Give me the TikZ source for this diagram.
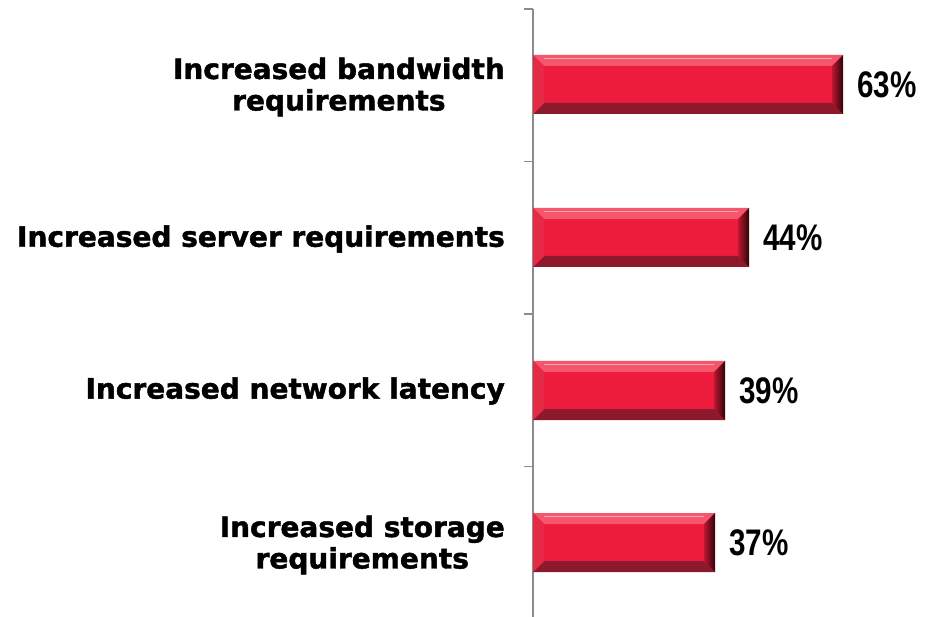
\documentclass[tikz,border=0pt]{standalone}
\usepackage{fontspec}
\setmainfont{DejaVu Sans}[BoldFeatures={FakeBold=1.5}]
\newfontfamily\valfont{Liberation Sans}
\definecolor{barface}{HTML}{EE1C3C}
\definecolor{bartop}{HTML}{F4566C}
\definecolor{barbot}{HTML}{8C1A2C}
\definecolor{barleft}{HTML}{E52A46}
\definecolor{barright}{HTML}{2E0407}
\definecolor{axisgray}{HTML}{8C8C8C}
\tikzset{
  catlabel/.style={anchor=east, align=center, font=\fontsize{28}{31.5}\selectfont\bfseries, inner sep=0pt},
  vallabel/.style={anchor=west, font=\fontsize{37}{40}\selectfont\valfont\bfseries, inner sep=0pt},
  axisline/.style={draw=axisgray, line width=1.6pt},
}
\begin{document}
\begin{tikzpicture}[x=1pt,y=-1pt]
\useasboundingbox (0,0) rectangle (926,617);
% axis
\coordinate (axtop) at (533,9);
\coordinate (axbot) at (533,617);
\draw[axisline] (axtop) -- (axbot);
\foreach \ty [count=\i] in {9,161.5,314,466.5}{
  \coordinate (tk\i) at (524,\ty);
  \draw[axisline] (tk\i) -- (533,\ty);
}
% bars
\foreach \e/\t/\v/\n in {843/55/63/1, 749/208/44/2, 725/361/39/3, 715/513/37/4}{
  \pgfmathsetmacro{\b}{\t+59}
  \pgfmathsetmacro{\d}{11}
  \fill[barface] (533,\t) rectangle (\e,\b);
  \fill[bartop] (533,\t) -- (\e,\t) -- (\e-\d,\t+\d) -- (533+\d,\t+\d) -- cycle;
  \fill[barbot] (533,\b) -- (\e,\b) -- (\e-\d,\b-\d) -- (533+\d,\b-\d) -- cycle;
  \fill[barleft] (533,\t) -- (533+\d,\t+\d) -- (533+\d,\b-\d) -- (533,\b) -- cycle;
  \shade[left color=barface!80!black, right color=barright] (\e,\t) -- (\e-\d,\t+\d) -- (\e-\d,\b-\d) -- (\e,\b) -- cycle;
  \draw[white!60!barface, line width=0.8pt] (533+\d,\t+3) -- (\e-\d,\t+3);
  \coordinate (bar\n) at (\e,\t+29.5);
  \node[vallabel] (val\n) at ([xshift=14pt]bar\n) {\scalebox{0.8}[1]{\v\%}};
}
\node[catlabel] (c1) at (505,87) {Increased bandwidth\\requirements};
\node[catlabel] (c2) at (505,239) {Increased server requirements};
\node[catlabel] (c3) at (505,391) {Increased network latency};
\node[catlabel] (c4) at (505,545) {Increased storage\\requirements};
\end{tikzpicture}
\end{document}
